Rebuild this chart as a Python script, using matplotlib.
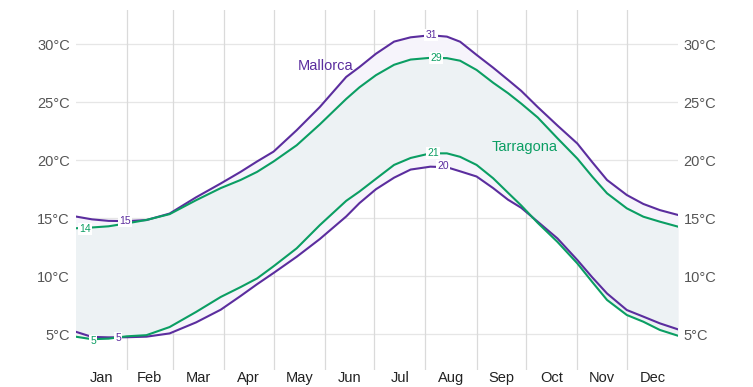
import matplotlib
matplotlib.use("Agg")
import matplotlib.pyplot as plt

plt.rcParams['font.family'] = ['Liberation Sans', 'DejaVu Sans']

days = [0, 10, 20, 31, 43, 57, 73, 88, 100, 110, 120, 134, 148, 164, 172, 182, 193,
        203, 215, 225, 233, 243, 253, 262, 270, 280, 292, 304, 313, 322, 334, 344, 354, 365]

mallorca_high = [15.15, 14.9, 14.77, 14.75, 14.84, 15.4, 16.8, 18.0, 19.0, 19.9, 20.75, 22.6,
                 24.6, 27.2, 28.05, 29.2, 30.25, 30.62, 30.8, 30.68, 30.24, 29.1, 28.0, 26.95,
                 26.0, 24.6, 23.0, 21.45, 19.85, 18.3, 17.0, 16.23, 15.7, 15.28]
mallorca_low = [5.2, 4.75, 4.71, 4.72, 4.77, 5.05, 6.0, 7.1, 8.28, 9.3, 10.27, 11.67,
                13.2, 15.15, 16.3, 17.5, 18.5, 19.2, 19.45, 19.4, 19.05, 18.6, 17.6, 16.6,
                15.9, 14.7, 13.25, 11.39, 9.9, 8.5, 7.07, 6.5, 5.92, 5.4]
tarragona_high = [14.13, 14.2, 14.3, 14.55, 14.85, 15.35, 16.55, 17.6, 18.3, 19.0, 19.9, 21.3,
                  23.1, 25.3, 26.3, 27.35, 28.25, 28.7, 28.85, 28.82, 28.6, 27.8, 26.7, 25.8,
                  24.9, 23.7, 21.9, 20.15, 18.6, 17.15, 15.85, 15.13, 14.7, 14.27]
tarragona_low = [4.77, 4.55, 4.6, 4.8, 4.9, 5.6, 6.9, 8.2, 9.05, 9.8, 10.85, 12.4,
                 14.4, 16.5, 17.3, 18.4, 19.6, 20.2, 20.6, 20.6, 20.3, 19.6, 18.45, 17.2,
                 16.1, 14.6, 12.95, 11.1, 9.5, 7.94, 6.64, 6.06, 5.35, 4.85]

months = ['Jan', 'Feb', 'Mar', 'Apr', 'May', 'Jun', 'Jul', 'Aug', 'Sep', 'Oct', 'Nov', 'Dec']
month_starts = [0, 31, 59, 90, 120, 151, 181, 212, 243, 273, 304, 334, 365]
y_ticks = [5, 10, 15, 20, 25, 30]

# value labels (day, temperature, text) placed on the lines
mallorca_marks = [(30, 14.76, '15'), (25.9, 4.63, '5'), (215.6, 30.82, '31'), (222.5, 19.53, '20')]
tarragona_marks = [(5.8, 14.07, '14'), (10.6, 4.42, '5'), (218.3, 28.86, '29'), (216.8, 20.66, '21')]

purple = '#5b2d9e'
green = '#0b9e63'

W, H = 753, 387
fig = plt.figure(figsize=(W / 100, H / 100), dpi=100)
ax = fig.add_axes([75.5 / W, 1 - 370 / H, (678 - 75.5) / W, 360 / H])

ax.set_xlim(0, 365)
ax.set_ylim(5 - 36 / 11.58, 5 + 324 / 11.58)

for s in ax.spines.values():
    s.set_visible(False)

ax.fill_between(days, mallorca_low, mallorca_high, color='#f6f4fb', lw=0, zorder=1)
ax.fill_between(days, tarragona_low, tarragona_high, color='#edf2f4', lw=0, zorder=1.5)

for y in y_ticks:
    ax.axhline(y, color='#e6e6e6', lw=0.9, zorder=0.5)
for d in month_starts[1:-1]:
    ax.axvline(d, color='#dadada', lw=0.9, zorder=0.6)

for series, col in [(mallorca_high, purple), (mallorca_low, purple),
                    (tarragona_high, green), (tarragona_low, green)]:
    ax.plot(days, series, color=col, lw=1.5, zorder=3, solid_joinstyle='round')

for (d, t, s) in mallorca_marks:
    ax.text(d, t, s, color=purple, fontsize=7.5, ha='center', va='center', zorder=4,
            bbox=dict(facecolor='white', edgecolor='none', pad=0.8))
for (d, t, s) in tarragona_marks:
    ax.text(d, t, s, color=green, fontsize=7.5, ha='center', va='center', zorder=4,
            bbox=dict(facecolor='white', edgecolor='none', pad=0.8))

ax.text(151.3, 28.14, 'Mallorca', color=purple, fontsize=10.5, ha='center', va='center', zorder=4)
ax.text(271.8, 21.15, 'Tarragona', color=green, fontsize=10.5, ha='center', va='center', zorder=4)

mid = [(month_starts[i] + month_starts[i + 1]) / 2 for i in range(12)]
ax.set_xticks(mid)
ax.set_xticklabels(months)
ax.set_yticks(y_ticks)
ax.set_yticklabels([f"{v}°C" for v in y_ticks])
ax.tick_params(axis='x', length=0, pad=1, labelsize=10.5, colors='#222222')
ax.tick_params(axis='y', length=0, pad=4, labelsize=10.5, colors='#555555',
               left=False, right=False, labelleft=True, labelright=True)

fig.savefig('out.png', dpi=100)
